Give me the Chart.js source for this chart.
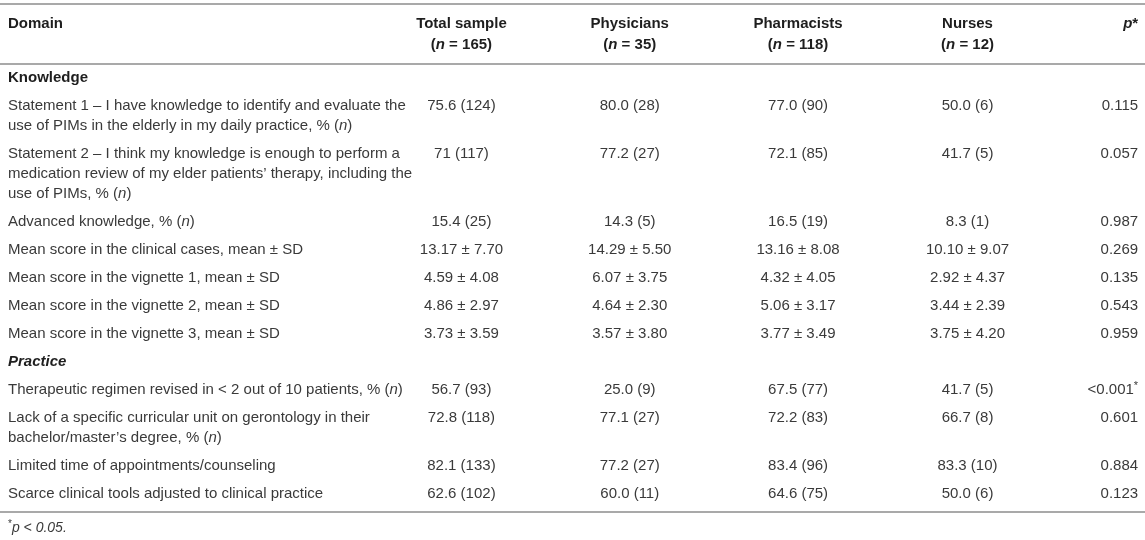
<!DOCTYPE html>
<html>
<head>
<meta charset="utf-8">
<script src="https://cdn.jsdelivr.net/npm/chart.js@4.4.1/dist/chart.umd.min.js"></script>
<style>
  html, body { margin: 0; padding: 0; background: #fff; }
  canvas { display: block; }
</style>
</head>
<body>
<canvas id="table" width="1145" height="540"></canvas>
<script>
// markup: ** bold, _ italic, ^ superscript
const columnHeaders = [
    ['**Domain'],
    ['**Total sample', '**(_n_ = 165)'],
    ['**Physicians', '**(_n_ = 35)'],
    ['**Pharmacists', '**(_n_ = 118)'],
    ['**Nurses', '**(_n_ = 12)'],
    ['**_p_*']
];

const rowLabels = [
    ['**Knowledge'],
    ['Statement 1 – I have knowledge to identify and evaluate the', 'use of PIMs in the elderly in my daily practice, % (_n_)'],
    ['Statement 2 – I think my knowledge is enough to perform a', 'medication review of my elder patients’ therapy, including the', 'use of PIMs, % (_n_)'],
    ['Advanced knowledge, % (_n_)'],
    ['Mean score in the clinical cases, mean ± SD'],
    ['Mean score in the vignette 1, mean ± SD'],
    ['Mean score in the vignette 2, mean ± SD'],
    ['Mean score in the vignette 3, mean ± SD'],
    ['**_Practice'],
    ['Therapeutic regimen revised in < 2 out of 10 patients, % (_n_)'],
    ['Lack of a specific curricular unit on gerontology in their', 'bachelor/master’s degree, % (_n_)'],
    ['Limited time of appointments/counseling'],
    ['Scarce clinical tools adjusted to clinical practice']
];

const totalSample = ['', '75.6 (124)', '71 (117)', '15.4 (25)', '13.17 ± 7.70', '4.59 ± 4.08', '4.86 ± 2.97', '3.73 ± 3.59', '', '56.7 (93)', '72.8 (118)', '82.1 (133)', '62.6 (102)'];
const physicians = ['', '80.0 (28)', '77.2 (27)', '14.3 (5)', '14.29 ± 5.50', '6.07 ± 3.75', '4.64 ± 2.30', '3.57 ± 3.80', '', '25.0 (9)', '77.1 (27)', '77.2 (27)', '60.0 (11)'];
const pharmacists = ['', '77.0 (90)', '72.1 (85)', '16.5 (19)', '13.16 ± 8.08', '4.32 ± 4.05', '5.06 ± 3.17', '3.77 ± 3.49', '', '67.5 (77)', '72.2 (83)', '83.4 (96)', '64.6 (75)'];
const nurses = ['', '50.0 (6)', '41.7 (5)', '8.3 (1)', '10.10 ± 9.07', '2.92 ± 4.37', '3.44 ± 2.39', '3.75 ± 4.20', '', '41.7 (5)', '66.7 (8)', '83.3 (10)', '50.0 (6)'];
const pValues = ['', '0.115', '0.057', '0.987', '0.269', '0.135', '0.543', '0.959', '', '<0.001^*', '0.601', '0.884', '0.123'];

const footnote = '^*^_p < 0.05.';

// layout (x in % of width, y in text-line units of 20px)
const colX = [0.7, 40.3, 55.0, 69.7, 84.5, 99.4];
const colAlign = ['left', 'center', 'center', 'center', 'center', 'right'];
const headLineY = [1.2, 2.25];
const topRuleY = 0.2;
const headRuleY = 3.2;
const rowPad = 0.4;
const FONT = '"Liberation Sans", Arial, Helvetica, sans-serif';
const FONT_PX = 15;
const TEXT_COLOR = '#3a3a3a';
const BOLD_COLOR = '#1e1e1e';
const RULE_COLOR = '#a9a9a9';

// line positions of every body row
const rowTops = [];
let cursor = headRuleY;
rowLabels.forEach(lines => {
    rowTops.push(cursor);
    cursor += lines.length + rowPad;
});
const bottomRuleY = cursor + 0.2;
const footnoteY = bottomRuleY + 0.8;
const lineY = (r, k) => rowTops[r] + rowPad / 2 + 0.5 + k;

function parseRuns(str) {
    const runs = [];
    let bold = false, italic = false, sup = false;
    str.split(/(\*\*|_|\^)/).forEach(tok => {
        if (tok === '**') bold = !bold;
        else if (tok === '_') italic = !italic;
        else if (tok === '^') sup = !sup;
        else if (tok) runs.push({ text: tok, bold, italic, sup });
    });
    return runs;
}

function runFont(run, size) {
    const px = run.sup ? Math.round(size * 0.7) : size;
    return (run.italic ? 'italic ' : '') + (run.bold ? 'bold ' : '') + px + 'px ' + FONT;
}

function drawRuns(ctx, str, x, y, align, size) {
    const runs = parseRuns(str);
    let width = 0;
    runs.forEach(run => {
        ctx.font = runFont(run, size);
        run.w = ctx.measureText(run.text).width;
        width += run.w;
    });
    let cx = align === 'left' ? x : align === 'right' ? x - width : x - width / 2;
    runs.forEach(run => {
        ctx.font = runFont(run, size);
        ctx.fillStyle = run.bold ? BOLD_COLOR : TEXT_COLOR;
        ctx.fillText(run.text, cx, run.sup ? y - size * 0.3 : y);
        cx += run.w;
    });
}

// table text drawn at the point positions that the scales give
const tableText = {
    id: 'tableText',
    afterDatasetsDraw(chart) {
        const ctx = chart.ctx;
        ctx.save();
        ctx.textBaseline = 'middle';
        chart.data.datasets.forEach((ds, i) => {
            if (!ds.texts) return;
            chart.getDatasetMeta(i).data.forEach((pt, j) => {
                drawRuns(ctx, ds.texts[j], pt.x, pt.y, ds.align, ds.fontSize || FONT_PX);
            });
        });
        ctx.restore();
    }
};

function rule(y) {
    return {
        type: 'line',
        data: [{ x: 0, y }, { x: 100, y }],
        borderColor: RULE_COLOR,
        borderWidth: 2,
        pointRadius: 0,
        clip: false
    };
}

function textColumn(c, values) {
    const pts = [], texts = [];
    columnHeaders[c].forEach((t, k) => {
        pts.push({ x: colX[c], y: headLineY[k] });
        texts.push(t);
    });
    values.forEach((v, r) => {
        const lines = Array.isArray(v) ? v : [v];
        lines.forEach((t, k) => {
            if (!t) return;
            pts.push({ x: colX[c], y: lineY(r, k) });
            texts.push(t);
        });
    });
    return { type: 'scatter', data: pts, texts, align: colAlign[c], pointRadius: 0, clip: false };
}

const datasets = [
    rule(topRuleY),
    rule(headRuleY),
    rule(bottomRuleY),
    textColumn(0, rowLabels),
    textColumn(1, totalSample),
    textColumn(2, physicians),
    textColumn(3, pharmacists),
    textColumn(4, nurses),
    textColumn(5, pValues),
    { type: 'scatter', data: [{ x: colX[0], y: footnoteY }], texts: [footnote], align: 'left', fontSize: 14, pointRadius: 0, clip: false }
];

new Chart(document.getElementById('table').getContext('2d'), {
    type: 'scatter',
    data: { datasets },
    options: {
        responsive: false,
        animation: false,
        events: [],
        layout: { padding: 0 },
        plugins: { legend: { display: false }, tooltip: { enabled: false } },
        scales: {
            x: { type: 'linear', min: 0, max: 100, display: false },
            y: { type: 'linear', min: 0, max: 27, reverse: true, display: false }
        }
    },
    plugins: [tableText]
});
</script>
</body>
</html>
